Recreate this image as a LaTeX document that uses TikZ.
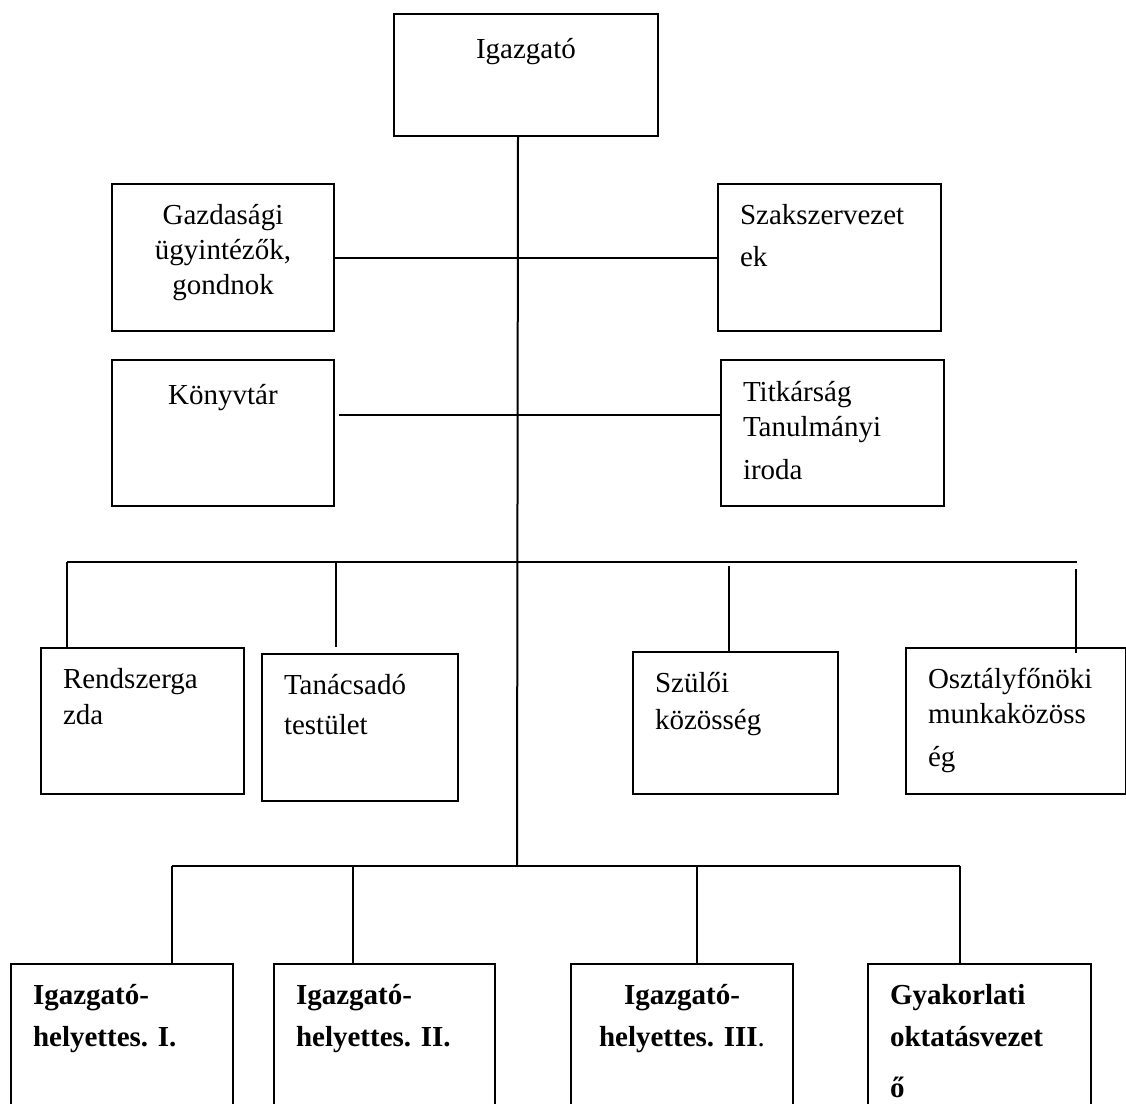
\documentclass[tikz,border=0pt]{standalone}
\usepackage{fontspec}
\setmainfont{Liberation Serif}

\newcommand\boxfont{\fontsize{14.5}{17.5}\selectfont\frenchspacing}

\tikzset{
  unit/.style={draw, line width=1pt, anchor=north west, inner xsep=11pt, inner ysep=0pt, align=left, font=\boxfont},
  lead/.style={unit, font=\boxfont\bfseries},
  wire/.style={line width=1pt}
}

\begin{document}
\begin{tikzpicture}[x=0.5pt, y=-0.5pt]

    \useasboundingbox (0,0) rectangle (1126,1104);
    \clip (0,0) rectangle (1126,1104);

    % Head
    \node[unit, align=center, text width=110pt, text height=22pt, text depth=39pt] (igazgato) at (393,13) {Igazgató};

    % Staff beside the head
    \node[unit, align=center, text width=89pt, text height=20pt, text depth=53.5pt] (gazd) at (111,183) {Gazdasági\\ ügyintézők,\\ gondnok};
    \node[unit, text width=89.5pt, text height=20pt, text depth=53.5pt] (szak) at (717,183) {Szakszervezet\\[3.5pt] ek};
    \node[unit, align=center, text width=89pt, text height=22pt, text depth=51pt] (konyv) at (111,359) {Könyvtár};
    \node[unit, text width=89.5pt, text height=20.5pt, text depth=52.5pt] (titk) at (720,359) {Titkárság\\ Tanulmányi\\[4pt] iroda};

    % Middle row
    \node[unit, text width=79.5pt, text height=20pt, text depth=53pt] (rendsz) at (40,647) {Rendszerga\\[0.5pt] zda};
    \node[unit, text width=76pt, text height=20pt, text depth=53.5pt] (tanacs) at (261,653) {Tanácsadó\\[2.5pt] testület};
    \node[unit, text width=80.5pt, text height=20pt, text depth=51pt] (szuloi) at (632,651) {Szülői\\[1pt] közösség};
    \node[unit, text width=88pt, text height=20pt, text depth=53pt] (osztaly) at (905,647) {Osztályfőnöki\\ munkaközöss\\[4pt] ég};

    % Deputies
    \node[lead, text width=89pt, text height=20pt, text depth=60pt] (h1) at (10,963) {Igazgató-\\[3.5pt] helyettes. I.};
    \node[lead, text width=88.5pt, text height=20pt, text depth=60pt] (h2) at (273,963) {Igazgató-\\[3.5pt] helyettes. II.};
    \node[lead, align=center, text width=89pt, text height=20pt, text depth=60pt] (h3) at (570,963) {Igazgató-\\[3.5pt] helyettes. III{\mdseries .}};
    \node[lead, text width=89.5pt, text height=20pt, text depth=60pt] (h4) at (867,963) {Gyakorlati\\[3.5pt] oktatásvezet\\[8pt] ő};

    % Trunk
    \coordinate (bus1) at (517,562);
    \coordinate (bus2) at (517,866);
    \draw[wire] ([xshift=-4pt]igazgato.south) -- (bus2);

    % Side links
    \draw[wire] (gazd.east) -- (szak.west);
    \draw[wire] ([xshift=2pt, yshift=9pt]konyv.east) -- ([yshift=9pt]titk.west);

    % Middle bus
    \coordinate (m1) at (67,562);
    \coordinate (m2) at (336,562);
    \coordinate (m3) at (729,566);
    \coordinate (m4) at (1076,569);
    \draw[wire] (m1) -- (1077,562);
    \draw[wire] (m1) -- (m1 |- rendsz.north);
    \draw[wire] (m2) -- ([yshift=3pt]m2 |- tanacs.north);
    \draw[wire] (m3) -- (m3 |- szuloi.north);
    \draw[wire] (m4) -- ([yshift=-3pt]m4 |- osztaly.north);

    % Lower bus
    \draw[wire] (172,866) -- (960,866);
    \foreach \n/\x in {h1/172, h2/353, h3/697, h4/960} {
        \draw[wire] (\x,866) -- (\x,866 |- \n.north);
    }

\end{tikzpicture}
\end{document}
